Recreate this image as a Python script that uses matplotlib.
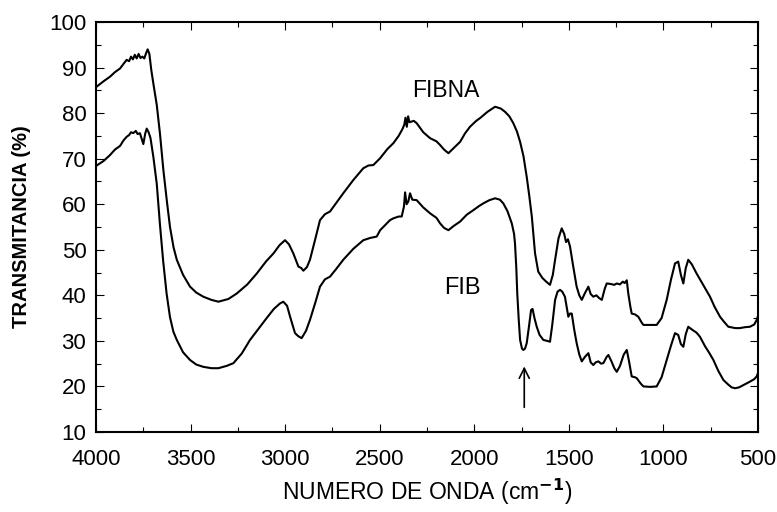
import matplotlib
matplotlib.use("Agg")
import matplotlib.pyplot as plt
from matplotlib.ticker import MultipleLocator

plt.rcParams['font.family'] = ['Liberation Sans', 'DejaVu Sans']

# FIBNA spectrum (upper curve)
fibna_x = [4000, 3960, 3926, 3900, 3873, 3855, 3838, 3825, 3815, 3805, 3795, 3785, 3775, 3765,
           3755, 3745, 3735, 3727, 3718, 3708, 3697, 3679, 3662, 3644, 3625, 3609, 3590, 3573,
           3540, 3503, 3470, 3433, 3390, 3353, 3300, 3256, 3200, 3150, 3100, 3062, 3030, 3001,
           2980, 2957, 2930, 2915, 2904, 2885, 2869, 2840, 2816, 2790, 2763, 2730, 2693, 2640,
           2587, 2560, 2534, 2498, 2460, 2428, 2400, 2380, 2370, 2364, 2357, 2350, 2343, 2320,
           2305, 2270, 2234, 2200, 2181, 2160, 2137, 2110, 2075, 2050, 2023, 1990, 1970, 1930,
           1890, 1860, 1838, 1815, 1794, 1775, 1758, 1740, 1723, 1710, 1696, 1685, 1679, 1662,
           1640, 1620, 1600, 1585, 1573, 1555, 1538, 1525, 1515, 1505, 1494, 1477, 1459, 1445,
           1432, 1415, 1397, 1385, 1371, 1355, 1340, 1326, 1310, 1300, 1280, 1260, 1247, 1230,
           1215, 1205, 1194, 1186, 1175, 1168, 1150, 1133, 1115, 1106, 1070, 1036, 1010, 983,
           960, 939, 922, 908, 895, 882, 869, 850, 825, 790, 754, 730, 710, 701, 680, 657, 620,
           596, 570, 543, 520, 507, 500]
fibna_y = [85.7, 87.0, 88.0, 89.0, 89.8, 90.8, 91.7, 91.4, 92.4, 91.8, 92.8, 92.0, 93.0, 92.1,
           92.4, 92.0, 93.2, 94.0, 93.0, 89.5, 86.5, 81.8, 75.5, 67.5, 60.5, 55.0, 50.5, 47.8,
           44.5, 41.9, 40.6, 39.7, 39.0, 38.6, 39.2, 40.4, 42.4, 44.8, 47.5, 49.2, 51.0, 52.1,
           51.2, 49.2, 46.3, 46.0, 45.4, 46.2, 47.8, 52.5, 56.5, 57.8, 58.4, 60.3, 62.4, 65.3,
           67.9, 68.5, 68.6, 70.1, 72.1, 73.4, 75.0, 76.5, 77.5, 79.0, 77.0, 79.3, 78.0, 78.3,
           77.8, 75.8, 74.5, 73.8, 73.0, 72.0, 71.2, 72.3, 73.7, 75.5, 77.0, 78.3, 78.9, 80.3,
           81.4, 81.0, 80.3, 79.3, 77.8, 76.0, 73.7, 70.5, 66.0, 62.0, 57.3, 52.0, 49.2, 45.2,
           43.8, 43.0, 42.3, 44.5, 47.8, 52.5, 54.7, 53.5, 51.7, 52.3, 50.7, 46.3, 41.9, 40.0,
           39.0, 40.5, 41.9, 40.3, 39.7, 40.0, 39.4, 39.0, 41.5, 42.6, 42.5, 42.3, 42.6, 42.4,
           43.0, 42.7, 43.3, 40.4, 37.5, 36.0, 35.8, 35.3, 34.0, 33.5, 33.5, 33.5, 35.0, 39.0,
           43.5, 47.0, 47.4, 44.5, 42.6, 46.0, 47.8, 46.8, 44.8, 42.3, 39.7, 37.5, 36.0, 35.3,
           34.2, 33.1, 32.8, 32.8, 33.0, 33.1, 33.6, 34.6, 35.5]

# FIB spectrum (lower curve)
fib_x = [4000, 3960, 3926, 3900, 3873, 3855, 3838, 3825, 3815, 3803, 3790, 3780, 3768, 3758,
         3750, 3740, 3732, 3722, 3712, 3697, 3679, 3662, 3645, 3627, 3609, 3591, 3573, 3540,
         3503, 3470, 3433, 3390, 3353, 3310, 3274, 3230, 3186, 3140, 3098, 3060, 3028, 3010,
         2990, 2974, 2948, 2930, 2913, 2890, 2869, 2840, 2816, 2790, 2763, 2730, 2693, 2640,
         2587, 2550, 2516, 2498, 2470, 2446, 2428, 2400, 2384, 2372, 2366, 2358, 2349, 2340,
         2328, 2305, 2270, 2234, 2200, 2181, 2160, 2137, 2110, 2075, 2040, 2005, 1975, 1952,
         1920, 1890, 1865, 1847, 1825, 1802, 1790, 1785, 1778, 1773, 1765, 1758, 1748, 1741,
         1732, 1723, 1710, 1700, 1692, 1682, 1670, 1655, 1635, 1615, 1600, 1588, 1573, 1560,
         1547, 1535, 1521, 1510, 1503, 1494, 1485, 1472, 1459, 1445, 1432, 1415, 1397, 1385,
         1371, 1358, 1344, 1330, 1318, 1300, 1291, 1275, 1260, 1247, 1230, 1210, 1194, 1182,
         1168, 1150, 1141, 1120, 1106, 1070, 1036, 1010, 983, 960, 939, 922, 908, 895, 882,
         869, 850, 825, 807, 780, 760, 736, 710, 683, 660, 640, 621, 600, 577, 545, 520, 507,
         500]
fib_y = [68.4, 69.5, 70.8, 72.0, 72.8, 74.0, 74.8, 75.2, 75.8, 75.6, 76.1, 75.4, 75.6, 74.3,
         73.2, 75.5, 76.6, 75.8, 74.5, 70.4, 64.5, 55.5, 47.5, 40.4, 35.2, 32.0, 30.2, 27.5,
         25.8, 24.8, 24.3, 24.0, 24.0, 24.5, 25.1, 27.2, 30.2, 32.7, 35.0, 37.0, 38.2, 38.6,
         37.7, 35.3, 31.7, 31.0, 30.6, 32.2, 34.6, 38.5, 41.9, 43.5, 44.1, 45.8, 47.8, 50.2,
         52.1, 52.6, 52.9, 54.3, 55.5, 56.5, 56.9, 57.3, 57.3, 59.5, 62.6, 60.0, 60.6, 62.4,
         61.0, 60.9, 59.3, 58.0, 57.0, 55.8, 54.8, 54.3, 55.2, 56.2, 57.7, 58.7, 59.6, 60.2,
         60.9, 61.3, 61.0, 60.2, 58.5, 55.8, 53.5, 51.4, 46.0, 40.4, 34.5, 30.2, 28.3, 28.0,
         28.3, 29.5, 33.5, 36.8, 37.0, 35.0, 33.1, 31.3, 30.2, 30.0, 29.8, 33.5, 39.0, 40.8,
         41.2, 40.8, 39.7, 37.0, 35.3, 36.0, 36.0, 32.5, 29.5, 27.0, 25.5, 26.5, 27.3, 25.3,
         24.7, 25.3, 25.5, 25.0, 25.1, 26.5, 26.9, 25.5, 24.0, 23.2, 24.5, 27.0, 28.0, 25.5,
         22.2, 22.0, 21.8, 20.6, 20.0, 19.9, 20.0, 22.0, 25.8, 29.0, 31.7, 31.3, 29.3, 28.7,
         31.5, 33.1, 32.5, 31.8, 30.9, 28.8, 27.5, 25.8, 23.4, 21.4, 20.5, 19.8, 19.6, 19.8,
         20.3, 21.0, 21.6, 22.2, 23.0]

fig = plt.figure(figsize=(7.77, 5.12), dpi=100)
ax = fig.add_axes([0.1236, 0.1563, 0.852, 0.8007])

ax.plot(fibna_x, fibna_y, color='black', lw=1.5)
ax.plot(fib_x, fib_y, color='black', lw=1.5)

ax.set_xlim(4000, 500)
ax.set_ylim(10, 100)
ax.xaxis.set_major_locator(MultipleLocator(500))
ax.xaxis.set_minor_locator(MultipleLocator(250))
ax.yaxis.set_major_locator(MultipleLocator(10))
ax.yaxis.set_minor_locator(MultipleLocator(5))
ax.tick_params(which='both', direction='in', top=True, right=True, labelsize=16)
ax.tick_params(axis='x', pad=12)
ax.tick_params(axis='y', pad=7)
ax.tick_params(which='major', length=6, width=0.8)
ax.tick_params(which='minor', length=3.5, width=0.8)
for s in ax.spines.values():
    s.set_linewidth(1.5)

ax.set_xlabel('NUMERO DE ONDA (cm$^{\\mathbf{-1}}$)', fontsize=16.5, labelpad=5)
ax.set_ylabel('TRANSMITANCIA (%)', fontsize=14.5, fontweight='bold', labelpad=13)

ax.text(2150, 85, 'FIBNA', fontsize=16.5, ha='center', va='center')
ax.text(2065, 41.6, 'FIB', fontsize=17, ha='center', va='center')

ax.annotate('', xy=(1736, 25.0), xytext=(1736, 14.8),
            arrowprops=dict(arrowstyle='->', color='black', lw=1.2,
                            mutation_scale=18))

fig.savefig('out.png', dpi=100)
